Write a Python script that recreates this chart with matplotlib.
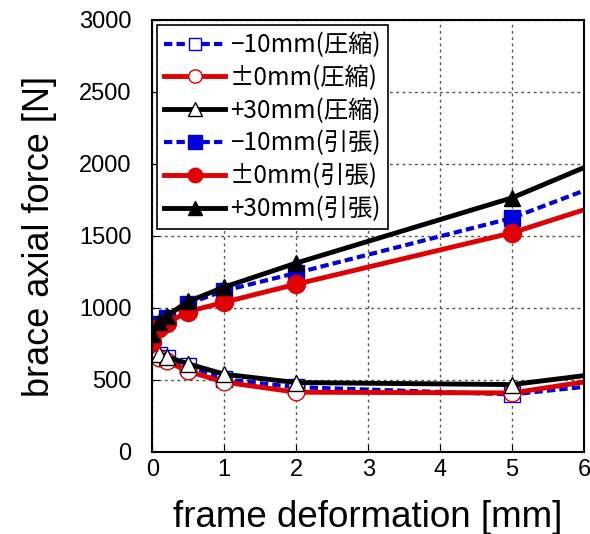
import matplotlib.pyplot as plt

plt.rcParams['font.family'] = ['Liberation Sans', 'Noto Sans CJK JP', 'DejaVu Sans']

# frame deformation [mm]
x = [0, 0.1, 0.2, 0.5, 1, 2, 5, 6]

# compression (open markers)
c_m10 = [800, 670, 655, 600, 505, 450, 400, 452]
c_0 = [765, 650, 630, 560, 485, 415, 410, 486]
c_p30 = [820, 680, 662, 612, 540, 482, 468, 530]

# tension (filled markers)
t_m10 = [800, 890, 930, 1030, 1120, 1243, 1625, 1815]
t_0 = [765, 860, 895, 975, 1040, 1165, 1522, 1682]
t_p30 = [820, 905, 945, 1045, 1145, 1312, 1765, 1975]

labels = ['\u221210mm(圧縮)', '±0mm(圧縮)', '+30mm(圧縮)',
          '\u221210mm(引張)', '±0mm(引張)', '+30mm(引張)']

fig = plt.figure(figsize=(5.9, 5.34), dpi=100)
ax = fig.add_axes([0.258, 0.1536, 0.732, 0.809])

mk = list(range(7))  # no marker on the end point at x=6

ax.plot(x, c_m10, color='#0000dd', ls=(0, (2, 1)), lw=3, marker='s', ms=11,
        mfc='white', mec='#0000dd', mew=1, markevery=mk, label=labels[0])
ax.plot(x, c_0, color='#e00000', lw=3.5, marker='o', ms=12,
        mfc='white', mec='#e00000', mew=1, markevery=mk, label=labels[1])
ax.plot(x, c_p30, color='black', lw=3.5, marker='^', ms=12,
        mfc='white', mec='black', mew=1, markevery=mk, label=labels[2])
ax.plot(x, t_m10, color='#0000dd', ls=(0, (2, 1)), lw=3, marker='s', ms=12,
        mfc='#0000dd', mec='#0000dd', markevery=mk, label=labels[3])
ax.plot(x, t_0, color='#e00000', lw=3.5, marker='o', ms=13,
        mfc='#e00000', mec='#e00000', markevery=mk, label=labels[4])
ax.plot(x, t_p30, color='black', lw=3.5, marker='^', ms=12,
        mfc='black', mec='black', markevery=mk, label=labels[5])

ax.set_xlim(0, 6)
ax.set_ylim(0, 3000)
ax.set_xticks(range(7))
ax.set_yticks(range(0, 3001, 500))
ax.tick_params(direction='in', labelsize=17, length=5)
ax.tick_params(axis='y', pad=15)
ax.tick_params(axis='x', pad=5)
ax.grid(True, ls=(0, (2, 2.5)), color='#555555', lw=1)
for s in ax.spines.values():
    s.set_linewidth(1.5)

ax.set_xlabel('frame deformation [mm]', fontsize=26.5, labelpad=14)
ax.set_ylabel('brace axial force [N]', fontsize=26, labelpad=16)

leg = ax.legend(loc='upper left', fancybox=False, edgecolor='black',
                framealpha=1, markerscale=0.8, handlelength=2.5,
                handletextpad=0.2, borderaxespad=0.2, labelspacing=0.28,
                borderpad=0.3,
                prop={'family': ['Noto Sans CJK JP', 'DejaVu Sans'], 'size': 17.5})
leg.get_frame().set_linewidth(1.2)

fig.savefig('out.png', dpi=100)
